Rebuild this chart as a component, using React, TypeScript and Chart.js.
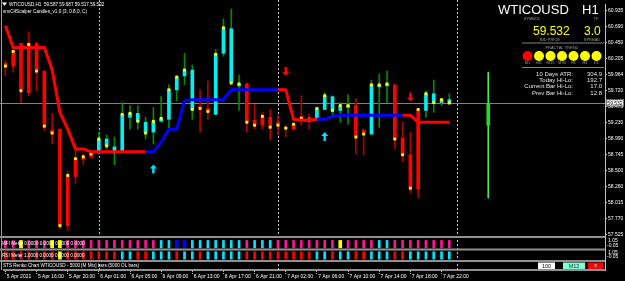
import React, { useEffect, useRef } from "react";
import { Chart, registerables } from "chart.js";

Chart.register(...registerables);

// ---------------- data (H1 bars, index 0 = 5 Apr 12:00) ----------------
const opens = [60.138, 60.093, 60.438, 59.687, 60.438, 60.017, 59.117, 59.132, 57.660, 58.411, 58.666, 58.711, 58.771, 58.981, 58.861, 58.771, 59.312, 59.372, 59.237, 59.087, 59.252, 59.282, 59.732, 59.942, 60.033, 59.477, 59.447, 59.357, 60.288, 60.663, 59.792, 59.822, 59.267, 59.192, 59.312, 59.237, 59.162, 59.132, 59.327, 59.312, 59.267, 59.432, 59.627, 59.417, 59.462, 59.492, 59.117, 59.057, 59.777, 59.792, 59.807, 58.996, 58.741, 58.216, 59.417, 59.672, 59.537, 59.582];
const highs = [60.183, 60.318, 60.438, 60.618, 60.453, 60.017, 59.372, 59.132, 58.486, 58.861, 58.756, 58.786, 59.087, 59.042, 59.011, 59.537, 59.492, 59.492, 59.312, 59.462, 59.627, 59.807, 59.942, 60.288, 60.108, 59.732, 59.867, 60.348, 60.813, 60.963, 59.957, 59.837, 59.507, 59.387, 59.432, 59.342, 59.192, 59.207, 59.642, 59.357, 59.462, 59.687, 59.642, 59.537, 59.657, 59.597, 59.132, 59.882, 59.972, 60.017, 59.822, 59.237, 59.087, 59.447, 59.717, 59.882, 59.597, 59.672];
const lows = [59.942, 60.002, 59.537, 59.642, 59.717, 59.117, 58.906, 57.615, 57.585, 58.306, 58.591, 58.681, 58.756, 58.831, 58.591, 58.771, 59.132, 59.132, 58.981, 58.906, 59.237, 59.117, 59.567, 59.807, 59.282, 59.087, 59.282, 59.357, 60.243, 59.807, 59.417, 59.087, 59.132, 59.132, 58.966, 59.042, 59.011, 59.117, 59.192, 59.132, 59.267, 59.432, 59.312, 59.237, 59.207, 58.756, 58.741, 59.042, 59.162, 59.537, 58.831, 58.636, 58.156, 58.081, 59.312, 59.387, 59.492, 59.507];
const closes = [60.093, 60.318, 59.717, 60.423, 60.017, 59.177, 59.072, 57.660, 58.426, 58.681, 58.711, 58.756, 58.981, 58.876, 58.786, 59.357, 59.372, 59.252, 59.072, 59.252, 59.297, 59.732, 59.927, 60.033, 59.432, 59.447, 59.402, 60.273, 60.678, 59.837, 59.822, 59.237, 59.192, 59.327, 59.162, 59.192, 59.147, 59.207, 59.297, 59.267, 59.447, 59.642, 59.417, 59.492, 59.492, 59.011, 59.057, 59.807, 59.807, 59.822, 58.981, 58.741, 58.231, 59.432, 59.672, 59.537, 59.582, 59.532];
// scalper colour: 1 = cyan, -1 = red
const candleDir = [-1, -1, -1, -1, -1, -1, -1, -1, -1, -1, -1, -1, 1, 1, 1, 1, 1, 1, 1, 1, 1, 1, 1, 1, 1, -1, -1, 1, 1, 1, 1, -1, -1, -1, -1, -1, -1, -1, -1, -1, 1, 1, 1, 1, 1, -1, -1, 1, 1, 1, -1, -1, -1, -1, 1, 1, 1, 1];

// trend stop line and its direction (1 = blue/up, -1 = red/down)
const stopLine = [60.708, 60.378, 60.378, 60.378, 60.378, 60.378, 60.033, 59.387, 59.132, 58.831, 58.831, 58.786, 58.786, 58.786, 58.786, 58.786, 58.786, 58.786, 58.786, 58.786, 58.936, 59.132, 59.132, 59.567, 59.582, 59.582, 59.582, 59.582, 59.582, 59.732, 59.732, 59.732, 59.732, 59.732, 59.732, 59.732, 59.732, 59.282, 59.267, 59.267, 59.282, 59.282, 59.327, 59.342, 59.342, 59.342, 59.342, 59.342, 59.342, 59.342, 59.342, 59.342, 59.342, 59.237, 59.237, 59.237, 59.237, 59.237];
const stopDir = [-1, -1, -1, -1, -1, -1, -1, -1, -1, -1, -1, -1, -1, -1, -1, -1, -1, -1, -1, 1, 1, 1, 1, 1, 1, 1, 1, 1, 1, 1, 1, 1, 1, 1, 1, 1, -1, -1, -1, -1, -1, 1, 1, 1, 1, 1, 1, 1, 1, 1, 1, 1, -1, -1, -1, -1, -1, -1];

const arrowUpIdx = [19, 41];
const arrowUpPrice = [58.591, 59.087];
const arrowDownIdx = [36, 52];
const arrowDownPrice = [59.942, 59.552];

// projected bar (green) drawn right of the last bar
const projIdx = [62];
const projOpen = [59.522];
const projClose = [59.192];
const projHigh = [60.002];
const projLow = [58.081];

// sub-window histograms: P pink, C cyan, B blue, Y yellow, R red
const mfiCodes = ("PPYPPPYY" + "PPPPPPPPPPPP" + "CCBB" + "CCCCCCC" + "P" + "CCC" + "PPPPPPPP" + "Y" + "PPPP" + "CC" + "PPPPPPPP").split("");
const rsiCodes = ("RRRRRRRY" + "RRRRRRR" + "CC" + "RR" + "CCC" + "R" + "CC" + "R" + "CCCCC" + "RRRRRRRRR" + "CC" + "R" + "CC" + "RR" + "CCC" + "RR" + "CCCCCC").split("");

const timeIdx = [0, 4, 8, 12, 16, 20, 24, 28, 32, 36, 40, 44, 48, 52, 56];
const timeLabels = ["5 Apr 2021", "5 Apr 16:00", "5 Apr 20:00", "6 Apr 01:00", "6 Apr 05:00", "6 Apr 09:00", "6 Apr 13:00", "6 Apr 17:00", "6 Apr 21:00", "7 Apr 02:00", "7 Apr 06:00", "7 Apr 10:00", "7 Apr 14:00", "7 Apr 18:00", "7 Apr 22:00"];
const daySepIdx = [12, 35, 58];

const priceTicks = [60.935, 60.69, 60.45, 60.205, 59.964, 59.72, 59.475, 59.23, 58.99, 58.745, 58.5, 58.26, 58.015, 57.77, 57.525];

const symbol = "WTICOUSD";
const timeframe = "H1";
const bidPrice = 59.532;
const spread = "3.0";
const ohlcHeader = "WTICOUSD,H1  59.587 59.687 59.517 59.532";
const indicatorName = "snvC4Scalper Candles_v1.0 (3, 0.8,0, C)";
const mfiLabel = "MFI Meter 0.0000 0.0000 0.0000 0.0000";
const rsiLabel = "RSI Meter 1.0000 0.0000 0.0000 0.0000";
const stsLabel = "STS Renko Chart WTICOUSD - 5000 [M Min] bars (5000 OL bars)";
const fractalTf = ["M1", "M5", "M15", "M30", "H1", "H4", "D1"];
const fractalState = [-1, 1, 1, 1, 1, 1, 1];
const statLabels = ["10 Days ATR:", "Today Hi-Lo:", "Current Bar Hi-Lo:", "Prev Bar Hi-Lo:"];
const statValues = ["304.9", "192.7", "17.0", "12.8"];

// ---------------- layout / style ----------------
const CW = 625;
const CH = 281;
const AREA_BOTTOM = 270;
const AXIS_W = 20;
const X_MIN = -0.179;
const X_MAX = 76.99;
const SANS = "'Liberation Sans', Arial, sans-serif";
const CYAN = "#00f0f0";
const RED = "#ff0000";
const COLORS: Record<string, string> = { P: "#ff1493", C: "#00e5ff", B: "#0000ff", Y: "#ffff00", R: "#ff0000" };

function bandRange(topPx: number, bottomPx: number) {
  const r = AREA_BOTTOM / (bottomPx - topPx);
  const min = -(AREA_BOTTOM - bottomPx) / (bottomPx - topPx);
  return { min, max: min + r };
}
function priceRange() {
  const top = priceTicks[0];
  const bot = priceTicks[priceTicks.length - 1];
  const ppu = (234 - 7) / (top - bot);
  const min = bot - (AREA_BOTTOM - 234) / ppu;
  return { min, max: min + AREA_BOTTOM / ppu };
}

function txt(ctx: CanvasRenderingContext2D, s: string, x: number, y: number, size: number, color: string, align: CanvasTextAlign = "left", hs = 1) {
  ctx.save();
  ctx.font = `${size}px ${SANS}`;
  ctx.fillStyle = color;
  ctx.textAlign = align;
  ctx.textBaseline = "middle";
  ctx.translate(x, y);
  ctx.scale(hs, 1);
  ctx.fillText(s, 0, 0);
  ctx.restore();
}
function hline(ctx: CanvasRenderingContext2D, x1: number, x2: number, y: number, color: string, w = 1) {
  ctx.strokeStyle = color;
  ctx.lineWidth = w;
  ctx.beginPath();
  ctx.moveTo(x1, y);
  ctx.lineTo(x2, y);
  ctx.stroke();
}

const mtPlugin = {
  id: "mt4",
  beforeDraw(chart: any) {
    const ctx = chart.ctx;
    ctx.save();
    ctx.fillStyle = "#000";
    ctx.fillRect(0, 0, chart.width, chart.height);
    ctx.restore();
  },
  beforeDatasetsDraw(chart: any) {
    const { ctx, scales } = chart;
    const x = scales.x;
    const y = scales.y;
    ctx.save();
    const py = Math.round(y.getPixelForValue(bidPrice)) + 0.5;
    hline(ctx, 0, 605, py, "#808080", 1);
    ctx.setLineDash([2, 2]);
    ctx.strokeStyle = "#c8c8c8";
    ctx.lineWidth = 1;
    daySepIdx.forEach((i) => {
      const px = Math.round(x.getPixelForValue(i)) + 0.5;
      ctx.beginPath();
      ctx.moveTo(px, 0);
      ctx.lineTo(px, AREA_BOTTOM);
      ctx.stroke();
    });
    ctx.setLineDash([]);
    ctx.restore();
  },
  afterDatasetsDraw(chart: any) {
    const { ctx, scales } = chart;
    const x = scales.x;
    const y = scales.y;
    ctx.save();
    arrowUpIdx.forEach((idx, k) => {
      const px = x.getPixelForValue(idx);
      const py = y.getPixelForValue(arrowUpPrice[k]);
      ctx.fillStyle = "#00e0ff";
      ctx.beginPath();
      ctx.moveTo(px, py);
      ctx.lineTo(px + 3.5, py + 4);
      ctx.lineTo(px + 1.2, py + 4);
      ctx.lineTo(px + 1.2, py + 9);
      ctx.lineTo(px - 1.2, py + 9);
      ctx.lineTo(px - 1.2, py + 4);
      ctx.lineTo(px - 3.5, py + 4);
      ctx.closePath();
      ctx.fill();
    });
    arrowDownIdx.forEach((idx, k) => {
      const px = x.getPixelForValue(idx);
      const py = y.getPixelForValue(arrowDownPrice[k]);
      ctx.fillStyle = "#ff0000";
      ctx.beginPath();
      ctx.moveTo(px, py);
      ctx.lineTo(px + 3.5, py - 4);
      ctx.lineTo(px + 1.2, py - 4);
      ctx.lineTo(px + 1.2, py - 9);
      ctx.lineTo(px - 1.2, py - 9);
      ctx.lineTo(px - 1.2, py - 4);
      ctx.lineTo(px - 3.5, py - 4);
      ctx.closePath();
      ctx.fill();
    });

    ctx.strokeStyle = "#a0a0a0";
    ctx.lineWidth = 1;
    ctx.beginPath();
    ctx.moveTo(1.5, 0);
    ctx.lineTo(1.5, AREA_BOTTOM);
    ctx.stroke();
    hline(ctx, 0, 605, 237, "#909090", 2);
    hline(ctx, 0, 605, 249.5, "#909090", 2);
    hline(ctx, 0, 605, 261, "#909090", 2);

    ctx.fillStyle = "#ffffff";
    ctx.beginPath();
    ctx.moveTo(2, 2.5);
    ctx.lineTo(7, 2.5);
    ctx.lineTo(4.5, 6);
    ctx.closePath();
    ctx.fill();
    txt(ctx, ohlcHeader, 9, 4.5, 6, "#ffffff", "left", 0.77);
    txt(ctx, indicatorName, 3, 11.5, 6, "#ffffff", "left", 0.77);

    txt(ctx, mfiLabel, 2, 243.5, 6, "#ffffff", "left", 0.77);
    txt(ctx, rsiLabel, 2, 255.5, 6, "#ffffff", "left", 0.77);
    txt(ctx, stsLabel, 3, 265.5, 6, "#ffffff", "left", 0.77);
    txt(ctx, "1.05", 608, 240.5, 5, "#ffffff");
    txt(ctx, "-0.05", 607, 245.5, 5, "#ffffff");
    txt(ctx, "1.05", 608, 252.5, 5, "#ffffff");
    txt(ctx, "-0.05", 607, 256.5, 5, "#ffffff");

    ctx.fillStyle = "#ffffff";
    ctx.fillRect(538, 262.5, 17, 6.5);
    txt(ctx, "100", 546.5, 266, 5.5, "#000000", "center");
    ctx.fillStyle = "#7fffd4";
    ctx.fillRect(563, 262.5, 22, 6.5);
    txt(ctx, "M12", 574, 266, 5.5, "#303030", "center");
    ctx.fillStyle = "#ff0000";
    ctx.fillRect(588, 262.5, 15, 6.5);
    txt(ctx, "x", 595.5, 265.5, 5.5, "#ffffff", "center");

    ctx.textBaseline = "alphabetic";
    ctx.font = `13px ${SANS}`;
    ctx.fillStyle = "#ffffff";
    ctx.textAlign = "left";
    ctx.fillText(symbol, 498, 14);
    ctx.fillText(timeframe, 582, 14);
    ctx.font = `12px ${SANS}`;
    ctx.fillStyle = "#ffff00";
    ctx.fillText(bidPrice.toFixed(3), 533, 35);
    ctx.fillText(spread, 584, 35);
    txt(ctx, "SYMBOL", 532, 18.5, 4, "#9a9a9a", "center");
    txt(ctx, "TF", 596, 18.5, 4, "#9a9a9a", "center");
    txt(ctx, "BID PRICE", 550, 40, 4, "#9a9a9a", "center");
    txt(ctx, "SPREAD", 592, 40, 4, "#9a9a9a", "center");
    hline(ctx, 522, 604, 43, "#808080", 1);
    txt(ctx, "FRACTAL TREND", 562, 47.5, 4, "#9a9a9a", "center");
    fractalTf.forEach((tf, k) => {
      const cx = 527.5 + k * 11.5;
      ctx.fillStyle = fractalState[k] < 0 ? "#ff0000" : "#ffff00";
      ctx.beginPath();
      ctx.arc(cx, 56, 5, 0, Math.PI * 2);
      ctx.fill();
      txt(ctx, tf, cx, 63, 4, "#9a9a9a", "center");
    });
    hline(ctx, 522, 604, 67.5, "#808080", 1);
    statLabels.forEach((s, k) => {
      const ty = 74 + k * 6.4;
      txt(ctx, s, 573, ty, 6, "#e6e6e6", "right");
      txt(ctx, statValues[k], 602, ty, 6, "#e6e6e6", "right");
    });

    const by = y.getPixelForValue(bidPrice);
    ctx.fillStyle = "#ffffff";
    ctx.fillRect(606, by - 3.5, 18, 7);
    ctx.strokeStyle = "#000000";
    ctx.lineWidth = 0.5;
    ctx.strokeRect(606.5, by - 3, 17, 6);
    txt(ctx, bidPrice.toFixed(3), 615, by + 0.3, 5, "#000000", "center");
    ctx.restore();
  },
};

export default function App() {
  const ref = useRef<HTMLCanvasElement | null>(null);

  useEffect(() => {
    if (!ref.current) return;
    const pr = priceRange();
    const mfiR = bandRange(240, 247.5);
    const rsiR = bandRange(251.5, 259);

    const idx = opens.map((_, i) => i);
    const wickData = idx.map((i) => ({ x: i, y: [lows[i], highs[i]] }));
    const bodyData = idx.map((i) => ({ x: i, y: [opens[i], closes[i]] }));
    const dotData = idx.map((i) => ({ x: i, y: closes[i] }));
    const stopData = idx.map((i) => ({ x: i, y: stopLine[i] }));
    const projWick = projIdx.map((p, k) => ({ x: p, y: [projLow[k], projHigh[k]] }));
    const projBody = projIdx.map((p, k) => ({ x: p, y: [projClose[k], projOpen[k]] }));
    const hist = (codes: string[], wide: boolean) =>
      idx.map((i) => ({ x: i, y: (codes[i] === "Y" || codes[i] === "B") === wide ? [0, 1] : null }));
    const colorOf = (codes: string[]) => idx.map((i) => COLORS[codes[i]]);

    const chart = new Chart(ref.current, {
      type: "bar",
      data: {
        datasets: [
          {
            type: "line",
            data: stopData,
            borderWidth: 3,
            pointRadius: 0,
            borderColor: RED,
            borderJoinStyle: "round",
            segment: {
              borderColor: (c: any) => (stopDir[c.p1DataIndex] > 0 ? "#0000ff" : RED),
            },
            order: 1,
          } as any,
          {
            type: "scatter",
            data: dotData,
            pointStyle: "rect",
            pointRadius: 2,
            backgroundColor: "#ffff00",
            borderWidth: 0,
            order: 2,
          } as any,
          {
            data: bodyData,
            backgroundColor: idx.map((i) => (candleDir[i] > 0 ? CYAN : RED)),
            barThickness: 3,
            minBarLength: 1,
            grouped: false,
            order: 3,
          } as any,
          {
            data: wickData,
            backgroundColor: idx.map((i) => (candleDir[i] > 0 ? "#008a00" : "#b00000")),
            barThickness: 1,
            grouped: false,
            order: 4,
          } as any,
          { data: projBody, backgroundColor: "#22dd22", barThickness: 3, grouped: false, order: 3 } as any,
          { data: projWick, backgroundColor: "#44ee44", barThickness: 1, grouped: false, order: 4 } as any,
          { data: hist(mfiCodes, false), yAxisID: "yMfi", backgroundColor: colorOf(mfiCodes), barThickness: 2, grouped: false, order: 5 } as any,
          { data: hist(mfiCodes, true), yAxisID: "yMfi", backgroundColor: colorOf(mfiCodes), barThickness: 3, grouped: false, order: 5 } as any,
          { data: hist(rsiCodes, false), yAxisID: "yRsi", backgroundColor: colorOf(rsiCodes), barThickness: 2, grouped: false, order: 5 } as any,
          { data: hist(rsiCodes, true), yAxisID: "yRsi", backgroundColor: colorOf(rsiCodes), barThickness: 3, grouped: false, order: 5 } as any,
        ],
      },
      options: {
        animation: false,
        responsive: false,
        devicePixelRatio: 1,
        layout: { padding: 0 },
        plugins: { legend: { display: false }, tooltip: { enabled: false } },
        scales: {
          x: {
            type: "linear",
            min: X_MIN,
            max: X_MAX,
            offset: false,
            bounds: "data",
            afterBuildTicks: (s: any) => {
              s.ticks = timeIdx.map((v) => ({ value: v }));
            },
            afterFit: (s: any) => {
              s.height = CH - AREA_BOTTOM;
              s.paddingLeft = 0;
              s.paddingRight = 0;
            },
            ticks: {
              autoSkip: false,
              maxRotation: 0,
              minRotation: 0,
              align: "start",
              padding: 0,
              color: "#ffffff",
              font: { size: 5, family: SANS },
              callback: (_v: any, i: number) => " " + timeLabels[i],
            },
            grid: { offset: false, drawOnChartArea: false, drawTicks: true, tickLength: 4, color: "#c0c0c0", tickBorderDash: [1, 1] },
            border: { display: true, color: "#909090", width: 2 },
          },
          y: {
            type: "linear",
            position: "right",
            min: pr.min,
            max: pr.max,
            bounds: "data",
            afterBuildTicks: (s: any) => {
              s.ticks = priceTicks.map((v) => ({ value: v }));
            },
            afterFit: (s: any) => {
              s.width = AXIS_W;
              s.paddingTop = 0;
              s.paddingBottom = 0;
            },
            ticks: {
              autoSkip: false,
              padding: 1,
              color: "#ffffff",
              font: { size: 5, family: SANS },
              callback: (v: any) => Number(v).toFixed(3),
            },
            grid: { drawOnChartArea: false, drawTicks: true, tickLength: 2, color: "#c0c0c0" },
            border: { display: true, color: "#c0c0c0", width: 1 },
          },
          yMfi: { type: "linear", display: false, min: mfiR.min, max: mfiR.max },
          yRsi: { type: "linear", display: false, min: rsiR.min, max: rsiR.max },
        },
      } as any,
      plugins: [mtPlugin as any],
    });
    return () => chart.destroy();
  }, []);

  return (
    <div style={{ position: "fixed", left: 0, top: 0, width: CW, height: CH, background: "#000" }}>
      <canvas ref={ref} width={CW} height={CH} style={{ display: "block" }} />
    </div>
  );
}
